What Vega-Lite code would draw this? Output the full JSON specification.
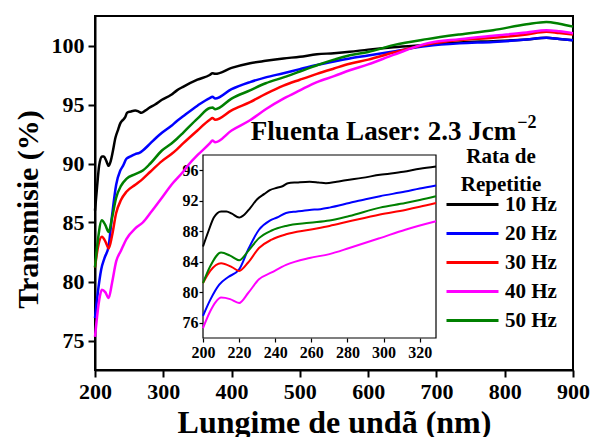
{
  "$schema": "https://vega.github.io/schema/vega-lite/v6.json",
  "width": 478,
  "height": 354,
  "autosize": {"type": "none"},
  "padding": {"left": 95, "top": 16, "right": 19, "bottom": 67},
  "background": "white",
  "config": {
    "view": {"stroke": "black", "strokeWidth": 2},
    "font": "Liberation Serif",
    "axis": {"labelFont": "Liberation Serif", "titleFont": "Liberation Serif", "labelFontWeight": "bold", "titleFontWeight": "bold", "labelColor": "black", "titleColor": "black", "grid": false, "domainColor": "black", "tickColor": "black"},
    "legend": {"labelFont": "Liberation Serif", "titleFont": "Liberation Serif"}
  },
  "datasets": {
    "spectra": [
      {"rate":"10 Hz","nm":200,"T":86.0},{"rate":"10 Hz","nm":203,"T":88.0},{"rate":"10 Hz","nm":206,"T":89.8},{"rate":"10 Hz","nm":210,"T":90.6},{"rate":"10 Hz","nm":213,"T":90.6},{"rate":"10 Hz","nm":216,"T":90.3},{"rate":"10 Hz","nm":220,"T":89.8},{"rate":"10 Hz","nm":223,"T":90.2},{"rate":"10 Hz","nm":226,"T":91.0},{"rate":"10 Hz","nm":230,"T":92.2},{"rate":"10 Hz","nm":234,"T":92.9},{"rate":"10 Hz","nm":237,"T":93.4},{"rate":"10 Hz","nm":241,"T":93.7},{"rate":"10 Hz","nm":244,"T":93.9},{"rate":"10 Hz","nm":247,"T":94.3},{"rate":"10 Hz","nm":252,"T":94.4},{"rate":"10 Hz","nm":259,"T":94.5},{"rate":"10 Hz","nm":264,"T":94.4},{"rate":"10 Hz","nm":268,"T":94.3},{"rate":"10 Hz","nm":274,"T":94.5},{"rate":"10 Hz","nm":279,"T":94.7},{"rate":"10 Hz","nm":288,"T":95.0},{"rate":"10 Hz","nm":298,"T":95.4},{"rate":"10 Hz","nm":311,"T":95.8},{"rate":"10 Hz","nm":320,"T":96.2},{"rate":"10 Hz","nm":329,"T":96.5},{"rate":"10 Hz","nm":350,"T":97.1},{"rate":"10 Hz","nm":368,"T":97.5},{"rate":"10 Hz","nm":372,"T":97.65},{"rate":"10 Hz","nm":376,"T":97.6},{"rate":"10 Hz","nm":400,"T":98.1},{"rate":"10 Hz","nm":427,"T":98.5},{"rate":"10 Hz","nm":450,"T":98.7},{"rate":"10 Hz","nm":476,"T":98.9},{"rate":"10 Hz","nm":500,"T":99.05},{"rate":"10 Hz","nm":525,"T":99.25},{"rate":"10 Hz","nm":550,"T":99.35},{"rate":"10 Hz","nm":573,"T":99.47},{"rate":"10 Hz","nm":600,"T":99.65},{"rate":"10 Hz","nm":637,"T":99.85},{"rate":"10 Hz","nm":686,"T":100.05},{"rate":"10 Hz","nm":734,"T":100.25},{"rate":"10 Hz","nm":783,"T":100.37},{"rate":"10 Hz","nm":832,"T":100.5},{"rate":"10 Hz","nm":861,"T":100.66},{"rate":"10 Hz","nm":880,"T":100.55},{"rate":"10 Hz","nm":900,"T":100.45},
      {"rate":"20 Hz","nm":200,"T":76.9},{"rate":"20 Hz","nm":204,"T":79.0},{"rate":"20 Hz","nm":209,"T":81.0},{"rate":"20 Hz","nm":214,"T":82.0},{"rate":"20 Hz","nm":220,"T":83.0},{"rate":"20 Hz","nm":225,"T":85.6},{"rate":"20 Hz","nm":231,"T":88.2},{"rate":"20 Hz","nm":237,"T":89.4},{"rate":"20 Hz","nm":241,"T":89.8},{"rate":"20 Hz","nm":246,"T":90.4},{"rate":"20 Hz","nm":252,"T":90.6},{"rate":"20 Hz","nm":259,"T":90.8},{"rate":"20 Hz","nm":265,"T":90.9},{"rate":"20 Hz","nm":270,"T":91.1},{"rate":"20 Hz","nm":281,"T":91.7},{"rate":"20 Hz","nm":290,"T":92.2},{"rate":"20 Hz","nm":298,"T":92.6},{"rate":"20 Hz","nm":312,"T":93.2},{"rate":"20 Hz","nm":320,"T":93.6},{"rate":"20 Hz","nm":329,"T":94.0},{"rate":"20 Hz","nm":350,"T":94.9},{"rate":"20 Hz","nm":368,"T":95.55},{"rate":"20 Hz","nm":372,"T":95.65},{"rate":"20 Hz","nm":376,"T":95.5},{"rate":"20 Hz","nm":400,"T":96.3},{"rate":"20 Hz","nm":427,"T":96.9},{"rate":"20 Hz","nm":450,"T":97.3},{"rate":"20 Hz","nm":476,"T":97.65},{"rate":"20 Hz","nm":500,"T":98.0},{"rate":"20 Hz","nm":525,"T":98.35},{"rate":"20 Hz","nm":550,"T":98.65},{"rate":"20 Hz","nm":573,"T":98.9},{"rate":"20 Hz","nm":600,"T":99.15},{"rate":"20 Hz","nm":637,"T":99.5},{"rate":"20 Hz","nm":686,"T":99.95},{"rate":"20 Hz","nm":734,"T":100.18},{"rate":"20 Hz","nm":783,"T":100.3},{"rate":"20 Hz","nm":832,"T":100.5},{"rate":"20 Hz","nm":861,"T":100.66},{"rate":"20 Hz","nm":880,"T":100.55},{"rate":"20 Hz","nm":900,"T":100.45},
      {"rate":"30 Hz","nm":200,"T":81.2},{"rate":"30 Hz","nm":204,"T":82.8},{"rate":"30 Hz","nm":210,"T":83.8},{"rate":"30 Hz","nm":216,"T":83.3},{"rate":"30 Hz","nm":220,"T":82.8},{"rate":"30 Hz","nm":225,"T":83.9},{"rate":"30 Hz","nm":231,"T":85.8},{"rate":"30 Hz","nm":238,"T":86.9},{"rate":"30 Hz","nm":246,"T":87.6},{"rate":"30 Hz","nm":259,"T":88.2},{"rate":"30 Hz","nm":270,"T":88.7},{"rate":"30 Hz","nm":281,"T":89.3},{"rate":"30 Hz","nm":298,"T":90.2},{"rate":"30 Hz","nm":312,"T":90.8},{"rate":"30 Hz","nm":320,"T":91.2},{"rate":"30 Hz","nm":329,"T":91.7},{"rate":"30 Hz","nm":350,"T":92.8},{"rate":"30 Hz","nm":368,"T":93.7},{"rate":"30 Hz","nm":372,"T":93.85},{"rate":"30 Hz","nm":376,"T":93.7},{"rate":"30 Hz","nm":400,"T":94.5},{"rate":"30 Hz","nm":427,"T":95.2},{"rate":"30 Hz","nm":450,"T":95.9},{"rate":"30 Hz","nm":476,"T":96.6},{"rate":"30 Hz","nm":500,"T":97.1},{"rate":"30 Hz","nm":525,"T":97.6},{"rate":"30 Hz","nm":550,"T":98.05},{"rate":"30 Hz","nm":573,"T":98.45},{"rate":"30 Hz","nm":600,"T":98.8},{"rate":"30 Hz","nm":637,"T":99.4},{"rate":"30 Hz","nm":686,"T":100.09},{"rate":"30 Hz","nm":734,"T":100.46},{"rate":"30 Hz","nm":783,"T":100.66},{"rate":"30 Hz","nm":832,"T":100.94},{"rate":"30 Hz","nm":861,"T":101.17},{"rate":"30 Hz","nm":880,"T":101.05},{"rate":"30 Hz","nm":900,"T":100.94},
      {"rate":"40 Hz","nm":200,"T":75.3},{"rate":"40 Hz","nm":204,"T":77.5},{"rate":"40 Hz","nm":207,"T":78.7},{"rate":"40 Hz","nm":210,"T":79.3},{"rate":"40 Hz","nm":215,"T":79.1},{"rate":"40 Hz","nm":220,"T":78.6},{"rate":"40 Hz","nm":225,"T":79.9},{"rate":"40 Hz","nm":231,"T":81.7},{"rate":"40 Hz","nm":238,"T":82.6},{"rate":"40 Hz","nm":246,"T":83.6},{"rate":"40 Hz","nm":259,"T":84.5},{"rate":"40 Hz","nm":270,"T":85.0},{"rate":"40 Hz","nm":281,"T":85.8},{"rate":"40 Hz","nm":298,"T":87.1},{"rate":"40 Hz","nm":312,"T":88.2},{"rate":"40 Hz","nm":329,"T":89.3},{"rate":"40 Hz","nm":337,"T":89.9},{"rate":"40 Hz","nm":350,"T":90.7},{"rate":"40 Hz","nm":368,"T":91.7},{"rate":"40 Hz","nm":372,"T":91.95},{"rate":"40 Hz","nm":376,"T":91.8},{"rate":"40 Hz","nm":400,"T":92.8},{"rate":"40 Hz","nm":427,"T":93.66},{"rate":"40 Hz","nm":450,"T":94.6},{"rate":"40 Hz","nm":476,"T":95.5},{"rate":"40 Hz","nm":500,"T":96.2},{"rate":"40 Hz","nm":525,"T":96.9},{"rate":"40 Hz","nm":550,"T":97.4},{"rate":"40 Hz","nm":573,"T":97.9},{"rate":"40 Hz","nm":600,"T":98.4},{"rate":"40 Hz","nm":637,"T":99.2},{"rate":"40 Hz","nm":686,"T":100.18},{"rate":"40 Hz","nm":734,"T":100.54},{"rate":"40 Hz","nm":783,"T":100.83},{"rate":"40 Hz","nm":832,"T":101.1},{"rate":"40 Hz","nm":861,"T":101.3},{"rate":"40 Hz","nm":880,"T":101.2},{"rate":"40 Hz","nm":900,"T":101.03},
      {"rate":"50 Hz","nm":200,"T":81.2},{"rate":"50 Hz","nm":204,"T":83.4},{"rate":"50 Hz","nm":210,"T":85.2},{"rate":"50 Hz","nm":215,"T":84.8},{"rate":"50 Hz","nm":220,"T":84.2},{"rate":"50 Hz","nm":225,"T":85.4},{"rate":"50 Hz","nm":231,"T":87.1},{"rate":"50 Hz","nm":238,"T":88.1},{"rate":"50 Hz","nm":246,"T":88.7},{"rate":"50 Hz","nm":259,"T":89.1},{"rate":"50 Hz","nm":270,"T":89.4},{"rate":"50 Hz","nm":281,"T":90.0},{"rate":"50 Hz","nm":298,"T":91.1},{"rate":"50 Hz","nm":312,"T":91.7},{"rate":"50 Hz","nm":320,"T":92.1},{"rate":"50 Hz","nm":329,"T":92.6},{"rate":"50 Hz","nm":350,"T":93.8},{"rate":"50 Hz","nm":368,"T":94.7},{"rate":"50 Hz","nm":372,"T":94.75},{"rate":"50 Hz","nm":376,"T":94.6},{"rate":"50 Hz","nm":400,"T":95.5},{"rate":"50 Hz","nm":427,"T":96.2},{"rate":"50 Hz","nm":450,"T":96.8},{"rate":"50 Hz","nm":476,"T":97.3},{"rate":"50 Hz","nm":500,"T":97.8},{"rate":"50 Hz","nm":525,"T":98.33},{"rate":"50 Hz","nm":550,"T":98.8},{"rate":"50 Hz","nm":573,"T":99.18},{"rate":"50 Hz","nm":600,"T":99.45},{"rate":"50 Hz","nm":637,"T":100.03},{"rate":"50 Hz","nm":686,"T":100.54},{"rate":"50 Hz","nm":734,"T":100.94},{"rate":"50 Hz","nm":783,"T":101.3},{"rate":"50 Hz","nm":832,"T":101.8},{"rate":"50 Hz","nm":861,"T":102.0},{"rate":"50 Hz","nm":880,"T":101.85},{"rate":"50 Hz","nm":900,"T":101.6}
    ],
    "annot": [{"label": "Fluenta Laser: 2.3 Jcm", "sup": "−2"}]
  },
  "resolve": {"scale": {"x": "independent", "y": "independent"}, "axis": {"x": "independent", "y": "independent"}},
  "layer": [
    {
      "layer": [
        {
          "data": {"name": "spectra"},
          "mark": {"type": "line", "strokeWidth": 2.5, "interpolate": "monotone"},
          "encoding": {
            "x": {"field": "nm", "type": "quantitative",
              "scale": {"domain": [200, 900], "nice": false, "zero": false},
              "axis": {"orient": "bottom", "title": "Lungime de undã (nm)", "titleFontSize": 32, "titlePadding": 5,
                "values": [200,250,300,350,400,450,500,550,600,650,700,750,800,850,900],
                "labelExpr": "datum.value % 100 === 0 ? datum.label : ''",
                "labelFontSize": 22, "labelPadding": 4, "labelFlush": false,
                "domainWidth": 2, "tickWidth": 2,
                "tickSize": {"condition": {"test": "datum.value % 100 === 0", "value": 7}, "value": 4}}},
            "y": {"field": "T", "type": "quantitative",
              "scale": {"domain": [72.5, 102.5], "nice": false, "zero": false},
              "axis": {"orient": "left", "title": "Transmisie (%)", "titleFontSize": 30, "titlePadding": 8, "titleY": 193,
                "values": [75,77.5,80,82.5,85,87.5,90,92.5,95,97.5,100,102.5],
                "labelExpr": "datum.value % 5 === 0 ? datum.label : ''",
                "labelFontSize": 22, "labelPadding": 4, "labelFlush": false,
                "domainWidth": 2, "tickWidth": 2,
                "tickSize": {"condition": {"test": "datum.value % 5 === 0", "value": 7}, "value": 4}}},
            "color": {"field": "rate", "type": "nominal",
              "scale": {"domain": ["10 Hz","20 Hz","30 Hz","40 Hz","50 Hz"], "range": ["#000000","#0000FF","#FF0000","#FF00FF","#008000"]},
              "legend": {"orient": "none", "legendX": 350, "legendY": 130,
                "title": ["Rata de", "Repetitie"], "titleFontSize": 21, "titleFontWeight": "bold", "titleColor": "black",
                "titleLineHeight": 28, "titleAnchor": "middle", "titleAlign": "center", "titlePadding": -4,
                "labelFontSize": 21, "labelFontWeight": "bold", "labelColor": "black", "labelOffset": 5,
                "symbolType": "stroke", "symbolSize": 2704, "symbolStrokeWidth": 3, "clipHeight": 27, "rowPadding": 2}}
          }
        },
        {
          "data": {"name": "annot"},
          "mark": {"type": "text", "align": "right", "baseline": "alphabetic", "fontSize": 27, "fontWeight": "bold", "font": "Liberation Serif", "color": "black"},
          "encoding": {"text": {"field": "label"}, "x": {"datum": 817}, "y": {"datum": 91.95}}
        },
        {
          "data": {"name": "annot"},
          "mark": {"type": "text", "align": "left", "baseline": "alphabetic", "fontSize": 18, "fontWeight": "bold", "font": "Liberation Serif", "color": "black", "dx": 1, "dy": -12},
          "encoding": {"text": {"field": "sup"}, "x": {"datum": 817}, "y": {"datum": 91.95}}
        }
      ]
    },
    {
      "layer": [
        {
          "data": {"name": "annot"},
          "mark": {"type": "rect", "fill": "white", "stroke": "black", "strokeWidth": 1.2},
          "encoding": {
            "x": {"datum": 200, "type": "quantitative",
              "scale": {"domain": [200, 329], "range": [108, 341], "nice": false, "zero": false},
              "axis": {"orient": "bottom", "offset": -32, "title": null, "domain": false,
                "values": [200,210,220,230,240,250,260,270,280,290,300,310,320],
                "labelExpr": "datum.value % 20 === 0 ? datum.label : ''",
                "labelFontSize": 16, "labelPadding": 2, "labelFlush": false, "tickWidth": 1.2,
                "tickSize": {"condition": {"test": "datum.value % 20 === 0", "value": 4}, "value": 2}}},
            "x2": {"datum": 329},
            "y": {"datum": 74, "type": "quantitative",
              "scale": {"domain": [74, 98], "range": [322, 139], "nice": false, "zero": false},
              "axis": {"orient": "left", "offset": -108, "title": null, "domain": false,
                "values": [76,78,80,82,84,86,88,90,92,94,96],
                "labelExpr": "datum.value % 4 === 0 ? datum.label : ''",
                "labelFontSize": 16, "labelPadding": 1, "labelFlush": false, "tickWidth": 1.2,
                "tickSize": {"condition": {"test": "datum.value % 4 === 0", "value": 4}, "value": 2}}},
            "y2": {"datum": 98}
          }
        },
        {
          "data": {"name": "spectra"},
          "transform": [{"filter": "datum.nm <= 329"}],
          "mark": {"type": "line", "strokeWidth": 2, "interpolate": "monotone"},
          "encoding": {
            "x": {"field": "nm", "type": "quantitative"},
            "y": {"field": "T", "type": "quantitative"},
            "color": {"field": "rate", "type": "nominal", "legend": null}
          }
        }
      ]
    }
  ]
}
